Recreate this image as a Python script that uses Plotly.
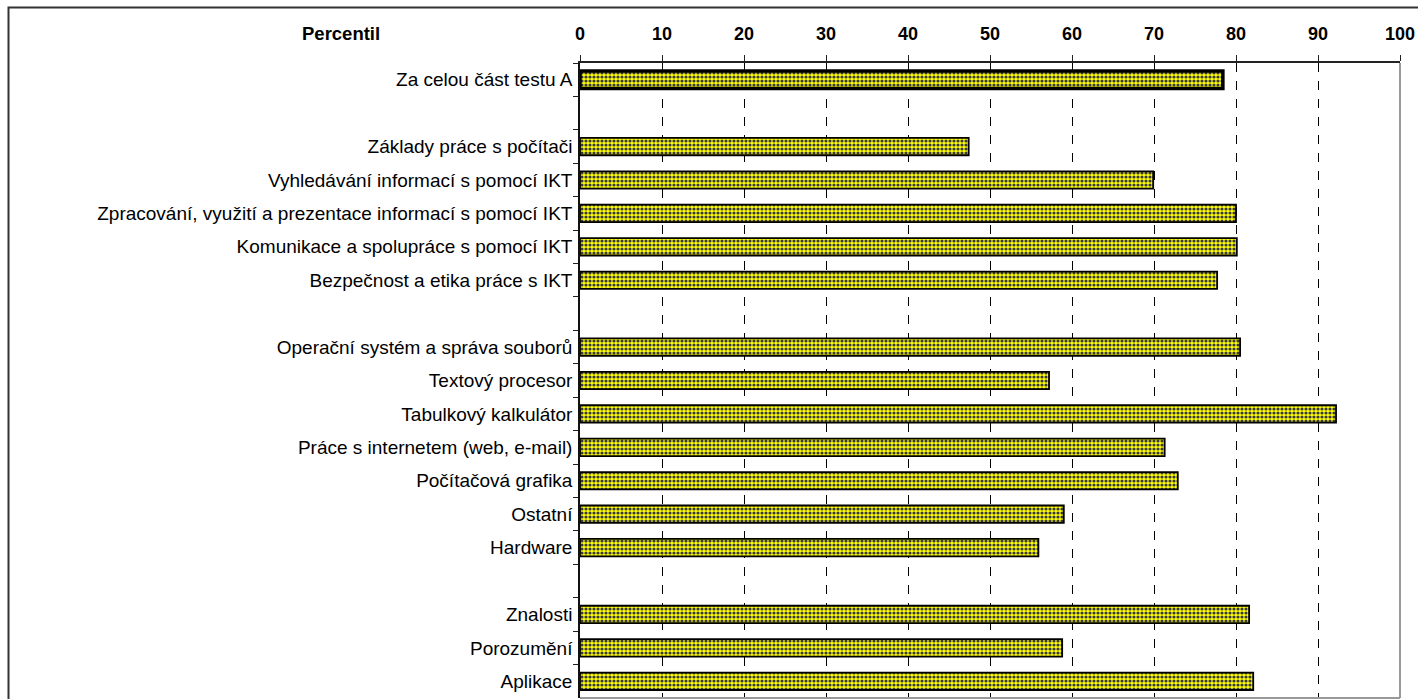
import plotly.graph_objects as go

categories = [
    "Za celou část testu A", " ",
    "Základy práce s počítači",
    "Vyhledávání informací s pomocí IKT",
    "Zpracování, využití a prezentace informací s pomocí IKT",
    "Komunikace a spolupráce s pomocí IKT",
    "Bezpečnost a etika práce s IKT", "  ",
    "Operační systém a správa souborů",
    "Textový procesor",
    "Tabulkový kalkulátor",
    "Práce s internetem (web, e-mail)",
    "Počítačová grafika",
    "Ostatní",
    "Hardware", "   ",
    "Znalosti",
    "Porozumění",
    "Aplikace",
]
values = [78.4, None, 47.4, 69.9, 80.0, 80.1, 77.7, None,
          80.5, 57.2, 92.2, 71.3, 72.9, 59.0, 55.9, None,
          81.6, 58.8, 82.1]
line_widths = [3.5] + [1.8] * 18
x_ticks = [0, 10, 20, 30, 40, 50, 60, 70, 80, 90, 100]

FONT = "Liberation Sans, Arial, sans-serif"

fig = go.Figure(go.Bar(
    y=categories, x=values, orientation="h",
    marker=dict(
        color="#ffff00",
        line=dict(color="#000000", width=line_widths),
        pattern=dict(shape=".", fgcolor="#3a3a3a", bgcolor="#ffff00",
                     size=4, solidity=0.5, fillmode="replace"),
    ),
    width=0.52,
))

W, H = 1418, 699
L, R, T, B = 580, 1400, 63, 698
pw, ph = R - L, B - T

def px(x):
    return (x - L) / pw

def py(y):
    return (B - y) / ph

fig.update_layout(
    width=W, height=H,
    margin=dict(l=L, r=W - R, t=T, b=H - B, pad=0),
    paper_bgcolor="white", plot_bgcolor="white",
    font=dict(family=FONT, size=18, color="black"),
    showlegend=False,
    xaxis=dict(
        side="top", range=[0, 100], tickvals=x_ticks,
        showgrid=True, gridcolor="black", griddash="dash", gridwidth=1,
        showline=True, linecolor="#222", linewidth=1.5,
        ticks="outside", ticklen=6, tickcolor="#222",
        tickfont=dict(size=18, family=FONT, color="black", weight="bold"),
        ticklabelstandoff=8,
        zeroline=False, fixedrange=True,
    ),
    yaxis=dict(
        categoryorder="array", categoryarray=categories,
        autorange="reversed",
        tickson="boundaries", ticks="outside", ticklen=5, tickcolor="#222",
        showline=True, linecolor="#111", linewidth=1.5,
        showgrid=False, zeroline=False,
        tickfont=dict(size=19, family=FONT, color="black"),
        ticklabelstandoff=2,
        fixedrange=True,
    ),
    annotations=[dict(
        text="<b>Percentil</b>", xref="paper", yref="paper",
        x=px(341), y=py(33), xanchor="center", yanchor="middle",
        showarrow=False, font=dict(size=18.5, family=FONT),
    )],
    shapes=[
        dict(type="rect", xref="paper", yref="paper",
             x0=px(8.5), x1=px(1425), y0=py(7.5), y1=py(705),
             line=dict(color="#333", width=2), layer="below"),
        dict(type="line", xref="paper", yref="paper",
             x0=1, x1=1, y0=0, y1=1, line=dict(color="#999", width=2)),
        dict(type="line", xref="paper", yref="paper",
             x0=0, x1=1, y0=0, y1=0, line=dict(color="#999", width=2)),
    ],
)

fig.write_html(
    "out.html",
    config={"displayModeBar": False},
    post_script="document.body.style.margin='0';document.body.style.overflow='hidden';",
)
